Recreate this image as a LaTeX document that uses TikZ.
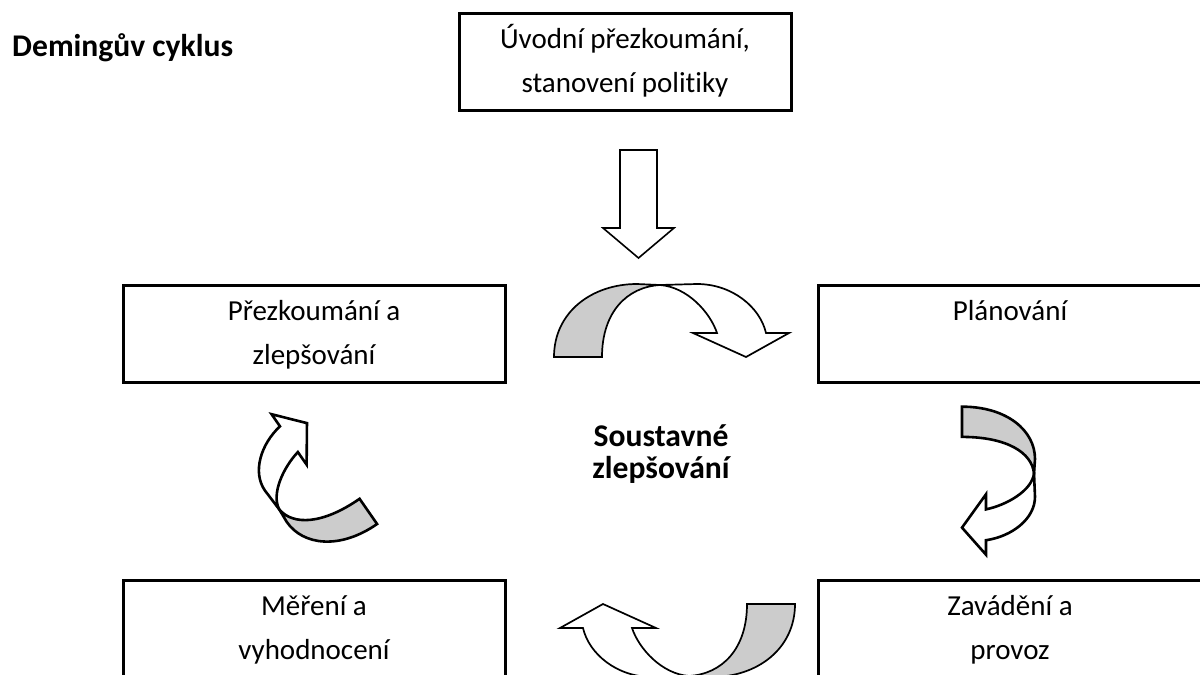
\documentclass[tikz,border=0pt]{standalone}
\usepackage{fontspec}
\setmainfont{Carlito}[Ligatures=NoCommon]
% Curved ribbon arrow: grey back side at the tail, white front side with the head.
% Local frame: tail on the left at v=0, arc bulging upward, head pointing down.
\newcommand\ribbonarrow[2]{%
  \begin{scope}[#1, line width=#2, line join=miter]
    \filldraw[fill=backgrey] (-118,0) .. controls (-118,45) and (-80,73) .. (-35,73)
      -- (-12,72) .. controls (-45,70) and (-70,45) .. (-70,0) -- cycle;
    \filldraw[fill=white] (-12,72) -- (25,73) .. controls (60,73) and (88,50) .. (94,24)
      -- (117,24) -- (74,0) -- (21,24) -- (45,24)
      .. controls (38,45) and (15,70) .. (-12,72) -- cycle;
  \end{scope}}
\begin{document}
\begin{tikzpicture}[x=1pt,y=1pt,
  stagebox/.style={draw, line width=3pt, rectangle, inner sep=0pt,
    minimum height=97pt, align=center, font=\fontsize{29}{44}\selectfont},
  boldlabel/.style={font=\fontsize{31.6}{31}\selectfont\bfseries, align=center, inner sep=0pt}]
\definecolor{backgrey}{RGB}{204,204,204}
\useasboundingbox (0,0) rectangle (1200,-675);
\fill[white] (0,0) rectangle (1200,-675);

% title
\node[boldlabel, anchor=west] (title) at (12,-50) {\strut Demingův cyklus};

% stages
\node[stagebox, minimum width=332pt] (start) at (625,-61.5)
  {\strut Úvodní přezkoumání,\\ \strut stanovení politiky};
\node[stagebox, minimum width=382pt] (act) at (314,-334)
  {\strut Přezkoumání a\\ \strut zlepšování};
\node[stagebox, minimum width=384pt] (plan) at (1010,-334)
  {\strut Plánování\\ \strut};
\node[stagebox, minimum width=382pt] (check) at (314,-628.5)
  {\strut Měření a\\ \strut vyhodnocení};
\node[stagebox, minimum width=384pt] (do) at (1010,-628.5)
  {\strut Zavádění a\\ \strut provoz};

% centre label
\node[boldlabel] (centre) at (661,-456) {\strut Soustavné\\ \strut zlepšování};

% block arrow from the initial review into the cycle
\draw[line width=1.6pt, fill=white] (620,-150) -- (657,-150) -- (657,-228)
  -- (674,-228) -- (638.5,-258) -- (603,-228) -- (620,-228) -- cycle;

% curved arrows of the cycle
\ribbonarrow{shift={(672,-357)}}{1.7pt}
\ribbonarrow{shift={(962,-481)}, rotate=-90, xscale=0.63}{2.6pt}
\ribbonarrow{shift={(677,-604)}, rotate=180}{1.7pt}
\ribbonarrow{shift={(334,-462)}, rotate=124.8, xscale=0.64}{2.6pt}
\end{tikzpicture}
\end{document}
